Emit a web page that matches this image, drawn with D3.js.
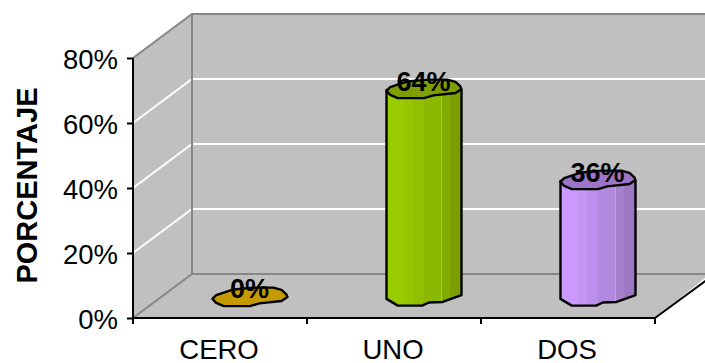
<!DOCTYPE html>
<html>
<head>
<meta charset="utf-8">
<script src="https://cdn.jsdelivr.net/npm/d3@7"></script>
<style>
html,body{margin:0;padding:0;background:#fff}
svg{display:block}
text{font-family:"Liberation Sans",Arial,sans-serif;fill:#000}
</style>
</head>
<body>
<svg id="chart" width="705" height="363"></svg>
<script>
const categories = ["CERO", "UNO", "DOS"];
const values = [0, 64, 36];
const valueLabels = ["0%", "64%", "36%"];
const tickValues = [0, 20, 40, 60, 80];
const yTitle = "PORCENTAJE";
const topColors = ["#c49a00", "#7f9f00", "#9c75c8"];
const bandStops = [0, .23, .36, .5, .73, .74, .85, 1];
const bandColors = [
  ["#c49a00", "#c49a00", "#c49a00", "#c49a00", "#c49a00", "#c49a00", "#c49a00"],
  ["#99cc00", "#95c600", "#90c000", "#8ab800", "#a6bf55", "#82ab00", "#7a9e00"],
  ["#cc99ff", "#c596f6", "#bd8fec", "#b289de", "#c0a8dc", "#a680cc", "#9c78c0"]
];

const svg = d3.select("#chart");
const defs = svg.append("defs");

// Oblique depth of the 3D box
const depthX = 59, depthY = -44;
const y = d3.scaleLinear().domain([0, 80]).range([318, 58]);
const x = d3.scaleBand().domain(categories).range([133, 655]);
const cylWidth = 75;

const line = d3.line();
const poly = (pts, fill, stroke, w) => svg.append("path")
  .attr("d", line(pts) + "Z").attr("fill", fill)
  .attr("stroke", stroke || "none").attr("stroke-width", w || 0)
  .attr("stroke-linejoin", "round");

// Walls and floor
const x0 = x.range()[0], x1 = x.range()[1];
poly([[x0, y(0)], [x0, y(80)], [x0 + depthX, y(80) + depthY], [x0 + depthX, y(0) + depthY]], "#c0c0c0");
svg.append("path").attr("d", line([
  [x0 + depthX, y(80) + depthY], [705, y(80) + depthY], [705, y(0) + depthY],
  [x0 + depthX, y(0) + depthY]]) + "Z").attr("fill", "#c0c0c0");
poly([[x0, y(0)], [x0 + depthX, y(0) + depthY], [705, y(0) + depthY],
      [705, y(0) + depthY + 4], [x1, y(0)]], "#c0c0c0");

// Gridlines running along the side wall and the back wall
tickValues.filter(t => t > 0 && t < 80).forEach(t => {
  svg.append("path")
    .attr("d", line([[x0, y(t)], [x0 + depthX, y(t) + depthY], [705, y(t) + depthY]]))
    .attr("fill", "none").attr("stroke", "#fff").attr("stroke-width", 2);
});

// Wall edges
const edge = pts => svg.append("path").attr("d", line(pts))
  .attr("fill", "none").attr("stroke", "#868686").attr("stroke-width", 2);
edge([[x0, y(80)], [x0 + depthX, y(80) + depthY], [705, y(80) + depthY]]);
edge([[x0 + depthX, y(80) + depthY], [x0 + depthX, y(0) + depthY]]);
edge([[x0, y(0)], [x0 + depthX, y(0) + depthY], [705, y(0) + depthY]]);

// Cut-out corner of the floor
svg.append("path").attr("d", line([[x1, y(0)], [x1 + 60, y(0) - 44]]))
  .attr("stroke", "#000").attr("stroke-width", 2).attr("fill", "none");

// Front axes
const yAxis = d3.axisLeft(y).tickValues(tickValues).tickFormat(d => d + "%").tickSize(6).tickPadding(9);
const yg = svg.append("g").attr("transform", `translate(${x0},0)`).call(yAxis);
const xAxis = d3.axisBottom(x).tickValues([]).tickSize(0);
const xg = svg.append("g").attr("transform", `translate(0,${y(0)})`).call(xAxis);
[yg, xg].forEach(g => g.selectAll("path,line").attr("stroke", "#000").attr("stroke-width", 2));
yg.selectAll(".domain").attr("d", `M0,${y(80)}V${y(0)}`);
xg.selectAll(".domain").attr("d", `M${x0},0H${x1}`);
yg.selectAll("text").attr("font-size", 27.5).attr("font-family", "Liberation Sans").attr("dy", 10);

// Ticks between categories on the front edge
x.domain().forEach((c, i) => {
  [x(c), x(c) + x.step()].forEach(px => {
    svg.append("line").attr("x1", px).attr("x2", px).attr("y1", y(0)).attr("y2", y(0) + 6)
      .attr("stroke", "#000").attr("stroke-width", 2);
  });
  svg.append("text").attr("x", x(c) + x.step() / 2 - 1).attr("y", 358.5)
    .attr("text-anchor", "middle").attr("font-size", 27.5).text(c);
});

// Y axis title
svg.append("text").attr("transform", "translate(37,185.5) rotate(-90)")
  .attr("text-anchor", "middle").attr("font-size", 29).attr("font-weight", "bold").text(yTitle);

// Hand-faceted cap and base outlines of a low-poly cylinder, in units of half width
const capFront = [[-1, 0.1], [-0.9, 0.55], [-0.7, 0.9], [0, 0.9], [0.25, 0.6], [0.84, 0.33], [1, -0.1]];
const capBack = [[0.97, -0.4], [0.84, -0.9], [0.62, -1.15], [0.1, -1.15], [-0.44, -0.95], [-0.9, -0.33]];
const baseFront = [[1, -0.33], [0.5, 0.44], [0.13, 0.5], [-0.05, 0.85], [-0.7, 0.85], [-1, 0.1]];
const floorY = 298;

categories.forEach((c, i) => {
  const cx = x(c) + x.step() / 2 + depthX / 2 + 0.5;
  const hw = cylWidth / 2, ry = 9;
  const top = y(values[i]) + floorY - y(0);
  const capPts = capFront.concat(capBack).map(p => [cx + p[0] * hw, top + p[1] * ry]);

  const gradId = "cyl" + i;
  const grad = defs.append("linearGradient").attr("id", gradId);
  bandColors[i].forEach((col, k) => {
    grad.append("stop").attr("offset", bandStops[k]).attr("stop-color", col);
    grad.append("stop").attr("offset", bandStops[k + 1]).attr("stop-color", col);
  });

  if (values[i] > 0) {
    const body = [[cx - hw, top], [cx + hw, top]]
      .concat(baseFront.map(p => [cx + p[0] * hw, floorY + p[1] * ry]));
    poly(body, `url(#${gradId})`, "#000", 2.4);
  }
  poly(capPts, topColors[i], "#000", 2.4);

  svg.append("text").attr("x", cx - 0.5).attr("y", top + (values[i] > 0 ? 1 : 0))
    .attr("text-anchor", "middle").attr("font-size", 27).attr("font-weight", "bold")
    .text(valueLabels[i]);
});
</script>
</body>
</html>
